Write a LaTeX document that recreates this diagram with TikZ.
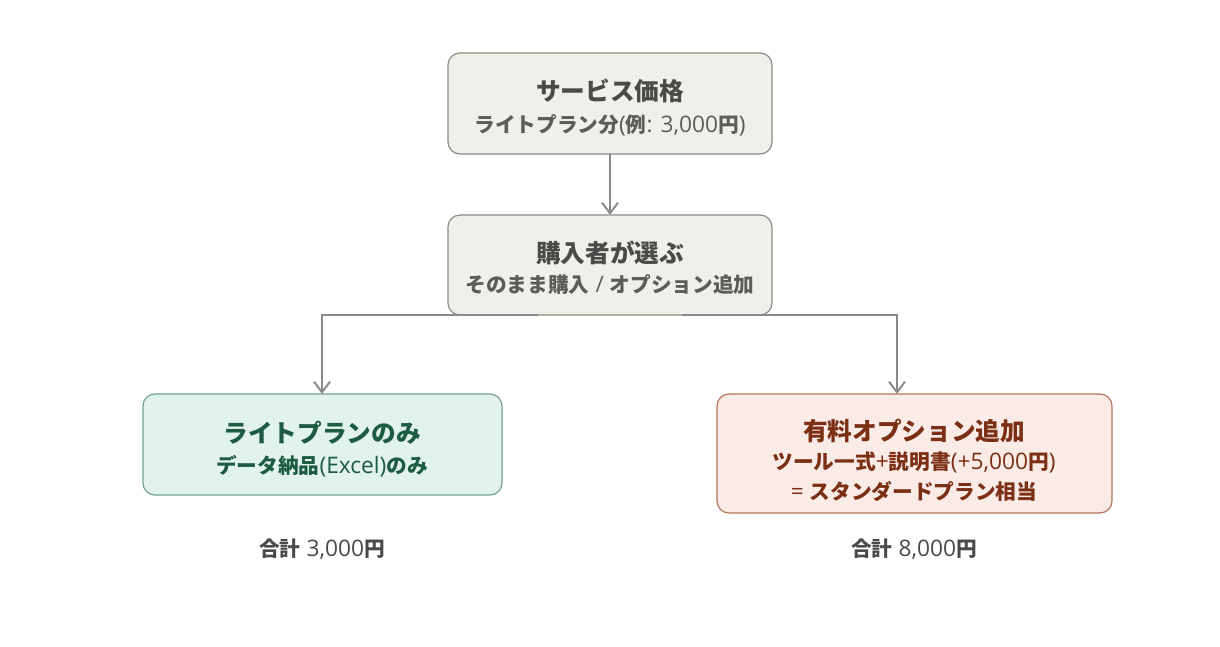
\documentclass[tikz,border=0pt]{standalone}
\usepackage{fontspec}
\usetikzlibrary{arrows.meta}
\newfontfamily\jp{Noto Sans CJK JP}
\newfontfamily\lat{Open Sans}[Scale=1.1]
\definecolor{neutralfill}{HTML}{F1EFE9}
\definecolor{neutraldraw}{HTML}{8C8A84}
\definecolor{neutraltext}{HTML}{4A4A48}
\definecolor{greenfill}{HTML}{E1F3EC}
\definecolor{greendraw}{HTML}{74A38F}
\definecolor{greentext}{HTML}{1D5B43}
\definecolor{redfill}{HTML}{FAEBE6}
\definecolor{reddraw}{HTML}{B5735D}
\definecolor{redtext}{HTML}{7B2F14}
\definecolor{linkgray}{HTML}{8A8A88}
\newcommand{\latseg}[1]{{\lat\mdseries #1}}
\tikzset{
  boxbase/.style={rounded corners=9pt, line width=0.9pt},
  neutralbox/.style={boxbase, fill=neutralfill, draw=neutraldraw},
  greenbox/.style={boxbase, fill=greenfill, draw=greendraw},
  redbox/.style={boxbase, fill=redfill, draw=reddraw},
  titletext/.style={font=\jp\bfseries\fontsize{18.5}{22}\selectfont, inner sep=0pt},
  subtext/.style={font=\jp\bfseries\fontsize{15.5}{19}\selectfont, inner sep=0pt},
  totaltext/.style={font=\jp\bfseries\fontsize{15.5}{18}\selectfont, inner sep=0pt, text=neutraltext},
  link/.style={draw=linkgray, line width=1.7pt, -{Straight Barb[length=8pt,width=12pt,line width=1.5pt]}}
}
\begin{document}
\begin{tikzpicture}[x=0.75pt,y=-0.75pt]
\useasboundingbox (0,0) rectangle (1220,646);
\fill[white] (0,0) rectangle (1220,646);
% boxes
\path[neutralbox] (448,53) rectangle (772,154);
\path[neutralbox] (448,215) rectangle (772,315);
\path[greenbox] (143,394) rectangle (502,495);
\path[redbox] (717,394) rectangle (1112,513);
\coordinate (b1s) at (610,154);
\coordinate (b2n) at (610,215);
\coordinate (b2l) at (538,315);
\coordinate (b2r) at (682,315);
\coordinate (b3n) at (322,394);
\coordinate (b4n) at (897,394);
% connectors
\draw[link] (b1s) -- (b2n);
\draw[link] (b2l) -| (b3n);
\draw[link] (b2r) -| (b4n);
% texts
\node[titletext, text=neutraltext] (t1) at (610,91) {サービス価格};
\node[subtext, text=neutraltext!90!white] (s1) at (610,125) {ライトプラン分\latseg{(}例\latseg{: 3,000}円\latseg{)}};
\node[titletext, text=neutraltext] (t2) at (610,253) {購入者が選ぶ};
\node[subtext, text=neutraltext!90!white] (s2) at (610,285) {そのまま購入\latseg{ / }オプション追加};
\node[titletext, text=greentext] (t3) at (322,433) {ライトプランのみ};
\node[subtext, text=greentext] (s3) at (322,466) {データ納品\latseg{(Excel)}のみ};
\node[titletext, text=redtext] (t4) at (914,431) {有料オプション追加};
\node[subtext, text=redtext] (s4) at (914,462) {ツール一式\latseg{+}説明書\latseg{(+5,000}円\latseg{)}};
\node[subtext, text=redtext] (s5) at (914,491) {\latseg{= }スタンダードプラン相当};
\node[totaltext] (tot1) at (322,549) {合計\latseg{ 3,000}円};
\node[totaltext] (tot2) at (914,549) {合計\latseg{ 8,000}円};
\end{tikzpicture}
\end{document}
